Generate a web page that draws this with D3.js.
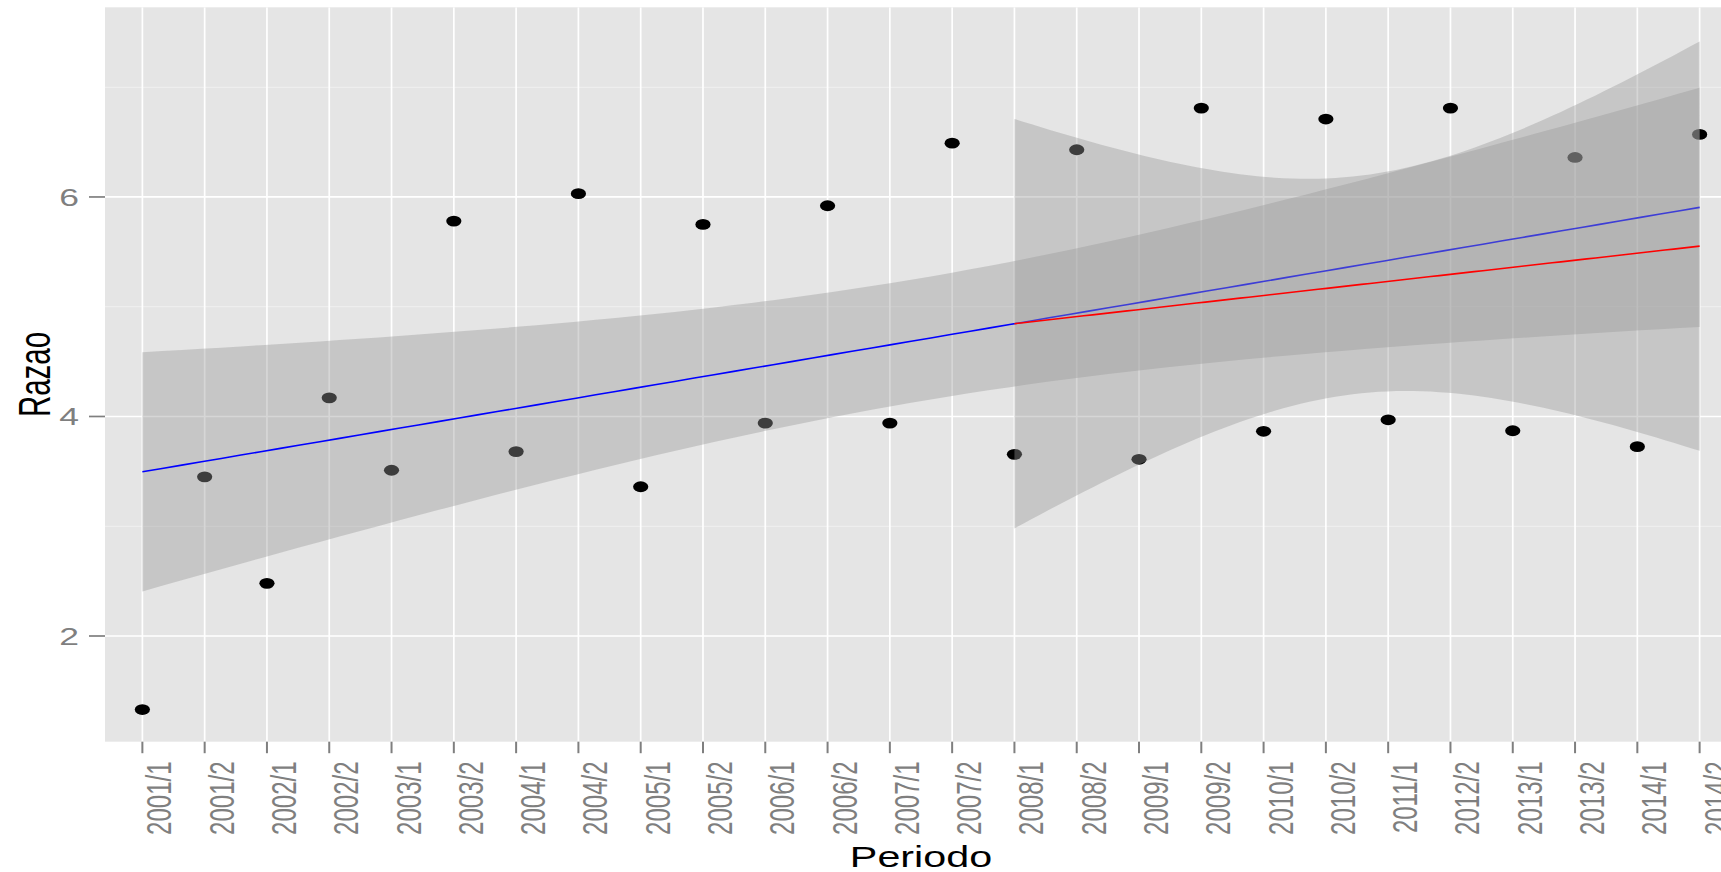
<!DOCTYPE html>
<html>
<head>
<meta charset="utf-8">
<script src="https://cdn.jsdelivr.net/npm/d3@7"></script>
<style>
  html, body { margin: 0; padding: 0; background: #ffffff; }
  svg { display: block; }
  text { font-family: "Liberation Sans", Arial, sans-serif; }
</style>
</head>
<body>
<svg id="chart" width="1721" height="872"></svg>
<script>
// ---------- data ----------
const periods = ["2001/1","2001/2","2002/1","2002/2","2003/1","2003/2","2004/1","2004/2",
  "2005/1","2005/2","2006/1","2006/2","2007/1","2007/2","2008/1","2008/2","2009/1","2009/2",
  "2010/1","2010/2","2011/1","2012/2","2013/1","2013/2","2014/1","2014/2"];
const razao = [1.33, 3.45, 2.48, 4.17, 3.51, 5.78, 3.68, 6.03, 3.36, 5.75, 3.94, 5.92, 3.94, 6.49,
  3.655, 6.43, 3.61, 6.81, 3.865, 6.71, 3.97, 6.81, 3.87, 6.36, 3.725, 6.57];
const yMajorTicks = [2, 4, 6];
const yMinorTicks = [3, 5, 7];
const subsetStart = "2008/1";          // start of the second (red) fit
const tCrit = {24: 2.0639, 10: 2.2281}; // 97.5% t quantiles for df = n-2

// ---------- layout ----------
const W = 1721, H = 872;
const panel = {left: 105, right: 1737, top: 7.3, bottom: 741.7};
const SX = 1.45; // horizontal stretch of the original image

const svg = d3.select("#chart");

const x = d3.scalePoint().domain(periods).range([panel.left, panel.right]).padding(0.6);
const xNum = d3.scaleLinear().domain([1, periods.length]).range([x(periods[0]), x(periods[periods.length-1])]);
const y = d3.scaleLinear().domain([1.037, 7.728]).range([panel.bottom, panel.top]);

// panel background
svg.append("rect").attr("x", panel.left).attr("y", panel.top)
  .attr("width", panel.right - panel.left).attr("height", panel.bottom - panel.top)
  .attr("fill", "#E5E5E5");

svg.append("clipPath").attr("id", "clip").append("rect")
  .attr("x", panel.left).attr("y", panel.top)
  .attr("width", panel.right - panel.left).attr("height", panel.bottom - panel.top);

const g = svg.append("g").attr("clip-path", "url(#clip)");

// grid
g.selectAll(".minor").data(yMinorTicks).join("line")
  .attr("x1", panel.left).attr("x2", panel.right)
  .attr("y1", d => y(d)).attr("y2", d => y(d))
  .attr("stroke", "#F0F0F0").attr("stroke-width", 1.1);
g.selectAll(".major").data(yMajorTicks).join("line")
  .attr("x1", panel.left).attr("x2", panel.right)
  .attr("y1", d => y(d)).attr("y2", d => y(d))
  .attr("stroke", "#FFFFFF").attr("stroke-width", 1.7);
g.selectAll(".vgrid").data(periods).join("line")
  .attr("x1", d => x(d)).attr("x2", d => x(d))
  .attr("y1", panel.top).attr("y2", panel.bottom)
  .attr("stroke", "#FFFFFF").attr("stroke-width", 1.7);

// points
g.selectAll(".pt").data(periods).join("ellipse")
  .attr("cx", d => x(d)).attr("cy", (d, i) => y(razao[i]))
  .attr("rx", 7.6).attr("ry", 5.4).attr("fill", "#000000");

// linear fit with confidence band
function fit(xs, ys) {
  const n = xs.length;
  const mx = d3.mean(xs), my = d3.mean(ys);
  let sxx = 0, sxy = 0;
  for (let i = 0; i < n; i++) { sxx += (xs[i]-mx)**2; sxy += (xs[i]-mx)*(ys[i]-my); }
  const b = sxy / sxx, a = my - b * mx;
  let sse = 0;
  for (let i = 0; i < n; i++) sse += (ys[i] - (a + b*xs[i]))**2;
  const s = Math.sqrt(sse / (n - 2));
  const t = tCrit[n - 2];
  const x0 = d3.min(xs), x1 = d3.max(xs);
  const pts = d3.range(80).map(k => {
    const xv = x0 + (x1 - x0) * k / 79;
    const fv = a + b * xv;
    const se = s * Math.sqrt(1/n + (xv - mx)**2 / sxx);
    return {x: xv, y: fv, lo: fv - t*se, hi: fv + t*se};
  });
  return pts;
}

const allX = periods.map((d, i) => i + 1);
const startIdx = periods.indexOf(subsetStart);
const subX = allX.slice(startIdx), subY = razao.slice(startIdx);

const fitAll = fit(allX, razao);
const fitSub = fit(subX, subY);

const area = d3.area().x(d => xNum(d.x)).y0(d => y(d.lo)).y1(d => y(d.hi));
const line = d3.line().x(d => xNum(d.x)).y(d => y(d.y));

g.append("path").datum(fitAll).attr("d", area).attr("fill", "#999999").attr("fill-opacity", 0.4);
g.append("path").datum(fitAll).attr("d", line).attr("fill", "none").attr("stroke", "#0000FF").attr("stroke-width", 1.6);
g.append("path").datum(fitSub).attr("d", area).attr("fill", "#999999").attr("fill-opacity", 0.4);
g.append("path").datum(fitSub).attr("d", line).attr("fill", "none").attr("stroke", "#FF0000").attr("stroke-width", 1.6);

// axes: ticks
svg.selectAll(".ytick").data(yMajorTicks).join("line")
  .attr("x1", panel.left - 16).attr("x2", panel.left)
  .attr("y1", d => y(d)).attr("y2", d => y(d))
  .attr("stroke", "#7F7F7F").attr("stroke-width", 1.7);
svg.selectAll(".ylab").data(yMajorTicks).join("text")
  .attr("transform", d => `translate(79,${y(d)}) scale(${SX},1)`)
  .attr("text-anchor", "end").attr("dy", "0.36em")
  .attr("font-size", 24.5).attr("fill", "#7F7F7F").text(d => d);

svg.selectAll(".xtick").data(periods).join("line")
  .attr("x1", d => x(d)).attr("x2", d => x(d))
  .attr("y1", panel.bottom).attr("y2", panel.bottom + 11.5)
  .attr("stroke", "#7F7F7F").attr("stroke-width", 2);
svg.selectAll(".xlab").data(periods).join("text")
  .attr("transform", d => `translate(${x(d) + 29},761.5) scale(${SX},1) rotate(-90)`)
  .attr("text-anchor", "end")
  .attr("font-size", 24).attr("fill", "#7F7F7F").text(d => d);

// titles
svg.append("text")
  .attr("transform", `translate(${(panel.left + panel.right)/2},866.5) scale(1.4,1)`)
  .attr("text-anchor", "middle").attr("font-size", 29.5).attr("fill", "#000000").text("Periodo");
svg.append("text")
  .attr("transform", `translate(50,${(panel.top + panel.bottom)/2}) scale(1.5,1) rotate(-90)`)
  .attr("text-anchor", "middle").attr("font-size", 29.5).attr("fill", "#000000").text("Razao");
</script>
</body>
</html>
